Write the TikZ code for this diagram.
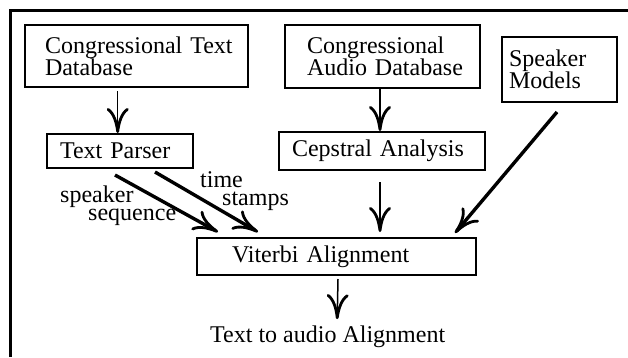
\documentclass[tikz,border=0pt]{standalone}
\usepackage{fontspec}
\setmainfont{Liberation Serif}
\usetikzlibrary{arrows.meta,calc}
\begin{document}
\begin{tikzpicture}[x=1pt,y=-1pt,
  txt/.style={font=\fontsize{24}{22}\selectfont},
  box/.style={txt, draw, line width=2.2pt, anchor=north west, inner ysep=0pt, outer sep=0pt, align=left},
  lbl/.style={font=\fontsize{24}{18}\selectfont, anchor=base west, inner sep=0pt, align=left},
  headtip/.style={-{Computer Modern Rightarrow[length=25pt,width=22pt,line width=2.8pt]}},
  varrow/.style={headtip, line width=1.5pt},
  darrow/.style={headtip, line width=3.4pt},
]
\useasboundingbox (0,0) rectangle (628,357);
% outer frame (top and left edges)
\draw[line width=3pt] (10.5,357) -- (10.5,10.5) -- (628,10.5);

% boxes
\node[box, text width=183pt, inner xsep=20pt, minimum height=62pt] (ctd) at (25,25) {\mbox{Congressional Text}\\\mbox{Database}};
\node[box, text width=151pt, inner xsep=22pt, minimum height=63pt] (cad) at (285,25) {\mbox{Congressional}\\\mbox{Audio Database}};
\node[box, text width=101pt, inner xsep=7pt, minimum height=65pt] (sm) at (502,37) {\mbox{Speaker}\\\mbox{Models}};
\node[box, text width=120pt, inner xsep=13pt, minimum height=34pt] (tp) at (47,134) {\mbox{Text Parser}};
\node[box, text width=180pt, inner xsep=13pt, minimum height=38pt] (ca) at (279,132) {\mbox{Cepstral Analysis}};
\node[box, text width=209pt, inner xsep=35pt, minimum height=37pt] (va) at (197,238) {\mbox{Viterbi Alignment}};
\node[lbl] (out) at (210,342) {Text to audio Alignment};

% connector labels
\node[lbl] (spk) at (60,220) {speaker\\\hspace*{28pt}sequence};
\node[lbl] (tim) at (200,205) {time\\\hspace*{22pt}stamps};

% connectors
\draw[varrow] ([xshift=-18.8pt,yshift=-4pt]ctd.south) -- ([xshift=-2.3pt,yshift=1pt]tp.north);
\draw[varrow] ([xshift=-2.5pt,yshift=-1pt]cad.south) -- ([xshift=-2pt,yshift=1pt]ca.north);
\draw[varrow] ([xshift=-2pt,yshift=-12pt]ca.south) -- ([xshift=43.5pt,yshift=6pt]va.north);
\draw[darrow] ([xshift=-2.5pt,yshift=-10pt]sm.south) -- ([xshift=118.5pt,yshift=5pt]va.north);
\draw[darrow] ([xshift=-5pt,yshift=-7pt]tp.south) -- ([xshift=-118.5pt,yshift=6pt]va.north);
\draw[darrow] ([xshift=35pt,yshift=-4pt]tp.south) -- ([xshift=-78.5pt,yshift=6pt]va.north);
\draw[varrow] ([xshift=1.5pt,yshift=-4pt]va.south) -- ([xshift=9.5pt,yshift=6pt]out.north);
\end{tikzpicture}
\end{document}
